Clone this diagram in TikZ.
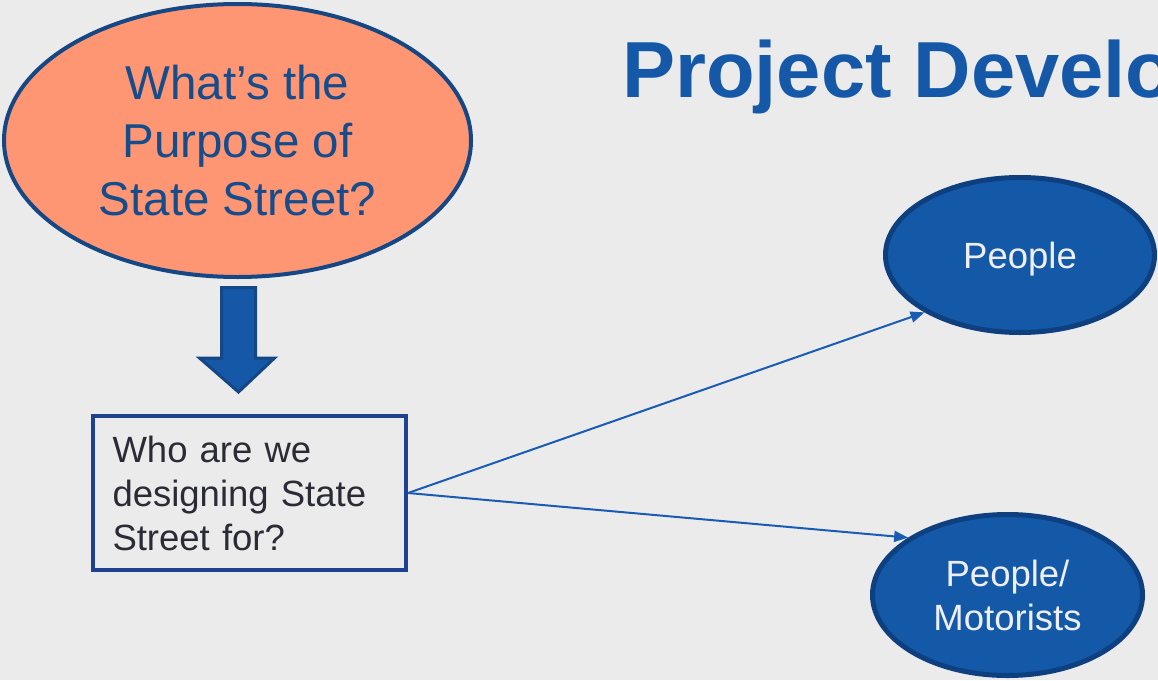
\documentclass[tikz,border=0pt]{standalone}
\usepackage{fontspec}
\setmainfont{Liberation Sans}
\usetikzlibrary{shapes.geometric,arrows.meta}
\definecolor{bg}{HTML}{EBEBEB}
\definecolor{salmon}{HTML}{FF9673}
\definecolor{navyline}{HTML}{144783}
\definecolor{navytext}{HTML}{154C8C}
\definecolor{bluefill}{HTML}{1359A8}
\definecolor{blueline}{HTML}{0E4080}
\definecolor{boxline}{HTML}{1E428F}
\definecolor{boxtext}{HTML}{2B2B36}
\definecolor{titleblue}{HTML}{1558A8}
\definecolor{connblue}{HTML}{1A5CB4}
\definecolor{whitetext}{HTML}{EEEEF4}
\tikzset{
  question/.style={ellipse, draw=navyline, line width=4pt, fill=salmon, inner sep=0pt,
    text=navytext, align=center, font=\fontsize{47.5}{58}\selectfont},
  answer/.style={ellipse, draw=blueline, line width=5pt, fill=bluefill, inner sep=0pt,
    text=whitetext, align=center, text depth=0pt, font=\fontsize{36.5}{44}\selectfont},
  askbox/.style={rectangle, draw=boxline, line width=4pt, fill=bg, inner xsep=19.5pt, inner ysep=0pt,
    text=boxtext, align=left, text width=274pt, minimum width=313pt, minimum height=154pt,
    font=\fontsize{36.5}{44}\selectfont},
  conn/.style={draw=connblue, line width=2pt, -{Triangle[length=14pt,width=11pt]}},
  blockarrow/.style={fill=titleblue, draw=navyline, line width=3pt, line join=miter},
  title/.style={text=titleblue, inner sep=0pt, anchor=base west, font=\fontsize{79.5}{97}\selectfont\bfseries}
}
\begin{document}
\begin{tikzpicture}[x=1pt,y=-1pt]
\useasboundingbox (0,0) rectangle (1158,680);
\fill[bg] (0,0) rectangle (1158,680);
\begin{scope}
\clip (0,0) rectangle (1158,680);
\node[title] (ttl) at (622,97) {Project Development};
\node[question, minimum width=467pt, minimum height=273pt] (purpose) at (237.5,140.5)
  {What’s the\\Purpose of\\State Street?};
\node[askbox] (who) at (249.5,493) {Who are we\\designing State\\Street for?};
\node[answer, minimum width=269pt, minimum height=155pt] (people) at (1020,255) {People};
\node[answer, minimum width=270pt, minimum height=161pt] (motor) at (1007.5,595) {People/\\Motorists};
\draw[blockarrow] (221.5,287.5) -- (255.5,287.5) -- (255.5,358) -- (274.5,358) -- (238.5,392)
  -- (199.5,358) -- (221.5,358) -- cycle;
\draw[conn] (who.east) -- (people.211);
\draw[conn] (who.east) -- (motor.150);
\end{scope}
\end{tikzpicture}
\end{document}
